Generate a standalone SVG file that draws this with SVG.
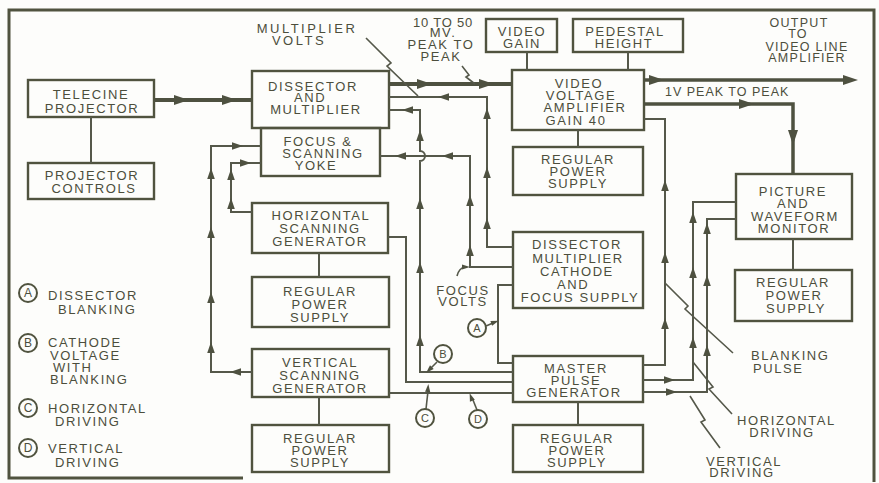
<svg xmlns="http://www.w3.org/2000/svg" width="879" height="483" viewBox="0 0 879 483">
<style>
.bg{fill:#fdfdfb}
.frame{fill:none;stroke:#50533f;stroke-width:3}
.box rect{fill:none;stroke:#50533f;stroke-width:2.4}
text{font-family:"Liberation Sans",Arial,sans-serif;font-size:13px;fill:#4c4e3c;letter-spacing:1.6px;text-anchor:middle}
.l{text-anchor:start}
.sm{font-size:12.5px;letter-spacing:1.3px}
.w{fill:none;stroke:#55584a;stroke-width:2}
.k{fill:none;stroke:#4e5140;stroke-width:4}
.ld{fill:none;stroke:#55584a;stroke-width:1.6}
.ah{fill:#4e5140}
.c{fill:none;stroke:#50533f;stroke-width:2}
.cl{font-size:11px;letter-spacing:0}
</style>
<defs>
<path id="a" class="ah" d="M5,0 L-6,-3.8 L-6,3.8 Z"/>
<path id="A" class="ah" d="M7,0 L-8,-5 L-8,5 Z"/>
<path id="s" class="ah" d="M4,0 L-4,-2.6 L-4,2.6 Z"/>
</defs>
<rect class="bg" x="0" y="0" width="879" height="483"/>
<path class="frame" d="M243,478 H9 V10 H874 V482"/>

<g id="telecine" class="box"><rect x="28" y="80" width="126" height="37"/><text x="91" y="99">TELECINE</text><text x="92" y="113">PROJECTOR</text></g>
<g id="projector-controls" class="box"><rect x="28" y="163" width="126" height="36"/><text x="92" y="180">PROJECTOR</text><text x="94" y="193">CONTROLS</text></g>
<g id="dissector" class="box"><rect x="252" y="71" width="137" height="57"/><text x="313" y="91">DISSECTOR</text><text x="310" y="102">AND</text><text x="316" y="114">MULTIPLIER</text></g>
<g id="yoke" class="box"><rect x="261" y="128" width="119" height="48"/><text x="318" y="146">FOCUS &amp;</text><text x="323" y="158">SCANNING</text><text x="316" y="170">YOKE</text></g>
<g id="horiz-gen" class="box"><rect x="252" y="203" width="136" height="50"/><text x="321" y="220">HORIZONTAL</text><text x="320" y="233">SCANNING</text><text x="320" y="246">GENERATOR</text></g>
<g id="horiz-ps" class="box"><rect x="252" y="277" width="137" height="50"/><text x="320" y="296">REGULAR</text><text x="320" y="309">POWER</text><text x="320" y="322">SUPPLY</text></g>
<g id="vert-gen" class="box"><rect x="252" y="349" width="137" height="48"/><text x="320" y="367">VERTICAL</text><text x="320" y="380">SCANNING</text><text x="320" y="393">GENERATOR</text></g>
<g id="vert-ps" class="box"><rect x="252" y="425" width="137" height="47"/><text x="320" y="443">REGULAR</text><text x="320" y="455">POWER</text><text x="320" y="467">SUPPLY</text></g>
<g id="video-gain" class="box"><rect x="486" y="19" width="71" height="33"/><text x="522" y="36">VIDEO</text><text x="522" y="48">GAIN</text></g>
<g id="pedestal" class="box"><rect x="573" y="19" width="110" height="33"/><text x="625" y="36">PEDESTAL</text><text x="624" y="48">HEIGHT</text></g>
<g id="video-amp" class="box"><rect x="512" y="70" width="132" height="60"/><text x="579" y="88">VIDEO</text><text x="581" y="100">VOLTAGE</text><text x="585" y="112">AMPLIFIER</text><text x="576" y="125">GAIN 40</text></g>
<g id="video-ps" class="box"><rect x="513" y="147" width="130" height="48"/><text x="578" y="164">REGULAR</text><text x="578" y="176">POWER</text><text x="578" y="188">SUPPLY</text></g>
<g id="cathode-supply" class="box"><rect x="513" y="232" width="130" height="76"/><text x="577" y="249">DISSECTOR</text><text x="578" y="263">MULTIPLIER</text><text x="577" y="276">CATHODE</text><text x="573" y="289">AND</text><text x="580" y="302">FOCUS SUPPLY</text></g>
<g id="master-pulse" class="box"><rect x="513" y="356" width="130" height="46"/><text x="576" y="373">MASTER</text><text x="576" y="385">PULSE</text><text x="574" y="397">GENERATOR</text></g>
<g id="master-ps" class="box"><rect x="513" y="425" width="130" height="47"/><text x="577" y="443">REGULAR</text><text x="577" y="455">POWER</text><text x="577" y="467">SUPPLY</text></g>
<g id="monitor" class="box"><rect x="736" y="174" width="116" height="65"/><text x="793" y="196">PICTURE</text><text x="793" y="208">AND</text><text x="795" y="221">WAVEFORM</text><text x="794" y="233">MONITOR</text></g>
<g id="monitor-ps" class="box"><rect x="735" y="270" width="117" height="51"/><text x="793" y="287">REGULAR</text><text x="794" y="300">POWER</text><text x="796" y="313">SUPPLY</text></g>

<g id="connectors">
<path class="k" d="M154,100 H252"/>
<use href="#A" transform="translate(182,100)"/><use href="#A" transform="translate(230,100)"/>
<path class="w" d="M91,117 V163"/>
<path class="k" d="M389,84 H512"/>
<use href="#A" transform="translate(425,84)"/><use href="#A" transform="translate(487,84)"/>
<path class="k" style="stroke-width:3.5" d="M644,80 H850"/>
<use href="#A" transform="translate(657,80)"/><use href="#A" transform="translate(851,80)"/>
<path class="k" style="stroke-width:3.5" d="M644,104 H793 V174"/>
<use href="#A" transform="translate(747,104)"/><use href="#A" transform="translate(793,138) rotate(90)"/>
<path class="w" d="M644,119 H665 V365 H643"/>
<use href="#a" transform="translate(665,185) rotate(-90)"/><use href="#a" transform="translate(665,257) rotate(-90)"/><use href="#a" transform="translate(665,323) rotate(-90)"/>
<path class="w" d="M513,247 H487 V97 H389"/>
<use href="#a" transform="translate(487,223) rotate(-90)"/><use href="#a" transform="translate(487,172) rotate(-90)"/><use href="#a" transform="translate(487,113) rotate(-90)"/><use href="#a" transform="translate(443,97) rotate(180)"/>
<path class="w" d="M513,267 H470 V156 H380"/>
<use href="#a" transform="translate(470,250) rotate(-90)"/><use href="#a" transform="translate(470,200) rotate(-90)"/><use href="#a" transform="translate(447,156) rotate(180)"/><use href="#a" transform="translate(400,156) rotate(180)"/>
<path class="w" d="M513,372 H420 V161 A5,5 0 0 0 420,151 V110 H389"/>
<use href="#a" transform="translate(420,340) rotate(-90)"/><use href="#a" transform="translate(420,267) rotate(-90)"/><use href="#a" transform="translate(420,203) rotate(-90)"/><use href="#a" transform="translate(420,135) rotate(-90)"/><use href="#a" transform="translate(407,110) rotate(180)"/>
<path class="w" d="M513,285 H498 V363 H513"/>
<path class="w" d="M388,237 H406 V382 H513"/>
<path class="w" d="M389,393 H513"/>
<path class="w" d="M252,372 H211 V146 H261"/>
<use href="#a" transform="translate(235,372) rotate(180)"/><use href="#a" transform="translate(211,347) rotate(-90)"/><use href="#a" transform="translate(211,297) rotate(-90)"/><use href="#a" transform="translate(211,232) rotate(-90)"/><use href="#a" transform="translate(211,173) rotate(-90)"/><use href="#a" transform="translate(238,146)"/>
<path class="w" d="M252,212 H231 V163 H261"/>
<use href="#a" transform="translate(231,203) rotate(-90)"/><use href="#a" transform="translate(231,174) rotate(-90)"/><use href="#a" transform="translate(246,163)"/>
<path class="w" d="M643,380 H693 V202 H736"/>
<use href="#a" transform="translate(670,380)"/><use href="#a" transform="translate(693,342) rotate(-90)"/><use href="#a" transform="translate(693,272) rotate(-90)"/><use href="#a" transform="translate(693,217) rotate(-90)"/>
<path class="w" d="M643,392 H707 V219 H736"/>
<use href="#a" transform="translate(672,392)"/><use href="#a" transform="translate(707,350) rotate(-90)"/><use href="#a" transform="translate(707,280) rotate(-90)"/><use href="#a" transform="translate(707,228) rotate(-90)"/>
<path class="w" d="M319,253 V277 M319,397 V425 M527,52 V70 M628,52 V70 M578,130 V147 M578,402 V425 M793,239 V270"/>
</g>

<g id="leaders">
<polyline class="ld" points="366,38 391,63 387,66 418,96"/>
<polyline class="ld" points="462,66 469,75 466,77 475,84"/>
<polyline class="ld" points="665,283 688,306 685,309 733,353"/>
<polyline class="ld" points="693,362 713,387 709,389 732,414"/>
<polyline class="ld" points="690,396 705,420 701,422 720,448"/>
<path class="ld" d="M457,276 Q459,268 465,267"/><use href="#s" transform="translate(466,267)"/>
<path class="ld" d="M486,326 L493,323"/><use href="#s" transform="translate(495,322) rotate(-20)"/>
<path class="ld" d="M437,362 L431,368"/><use href="#s" transform="translate(429,370) rotate(135)"/>
<path class="ld" d="M426,409 L428,391"/><use href="#s" transform="translate(428,388) rotate(-85)"/>
<path class="ld" d="M477,410 L473,400"/><use href="#s" transform="translate(471,397) rotate(-110)"/>
<circle class="c" cx="477" cy="328" r="9"/><text class="cl" x="477" y="332">A</text>
<circle class="c" cx="443" cy="354" r="9"/><text class="cl" x="443" y="358">B</text>
<circle class="c" cx="425" cy="418" r="9"/><text class="cl" x="425" y="422">C</text>
<circle class="c" cx="478" cy="419" r="9"/><text class="cl" x="478" y="423">D</text>
</g>

<g id="labels">
<text x="307" y="33" style="letter-spacing:2.5px">MULTIPLIER</text><text x="299" y="45" style="letter-spacing:2.5px">VOLTS</text>
<text x="443" y="27" style="letter-spacing:0.8px">10 TO 50</text><text x="443" y="37">MV.</text><text x="441" y="49">PEAK TO</text><text x="441" y="61">PEAK</text>
<text class="sm" x="799" y="27">OUTPUT</text><text class="sm" x="798" y="38">TO</text><text class="sm" x="807" y="51">VIDEO LINE</text><text class="sm" x="807" y="62">AMPLIFIER</text>
<text class="l sm" x="665" y="96" style="letter-spacing:1px">1V PEAK TO PEAK</text>
<text x="463" y="295">FOCUS</text><text x="463" y="306">VOLTS</text>
<text class="l" x="751" y="360">BLANKING</text><text class="l" x="753" y="373">PULSE</text>
<text class="l" x="737" y="425">HORIZONTAL</text><text x="782" y="437">DRIVING</text>
<text x="744" y="466">VERTICAL</text><text x="742" y="477">DRIVING</text>
</g>

<g id="legend">
<circle class="c" cx="28" cy="293" r="9"/><text class="cl" x="28" y="297" style="font-size:12px">A</text>
<text class="l" x="48" y="300">DISSECTOR</text><text class="l" x="58" y="314">BLANKING</text>
<circle class="c" cx="28" cy="343" r="9"/><text class="cl" x="28" y="347" style="font-size:12px">B</text>
<text class="l" x="48" y="347">CATHODE</text><text class="l" x="50" y="360">VOLTAGE</text><text class="l" x="53" y="372">WITH</text><text class="l" x="50" y="384">BLANKING</text>
<circle class="c" cx="28" cy="408" r="9"/><text class="cl" x="28" y="412" style="font-size:12px">C</text>
<text class="l" x="48" y="413">HORIZONTAL</text><text class="l" x="55" y="426">DRIVING</text>
<circle class="c" cx="28" cy="448" r="9"/><text class="cl" x="28" y="452" style="font-size:12px">D</text>
<text class="l" x="48" y="453">VERTICAL</text><text class="l" x="55" y="467">DRIVING</text>
</g>
</svg>
